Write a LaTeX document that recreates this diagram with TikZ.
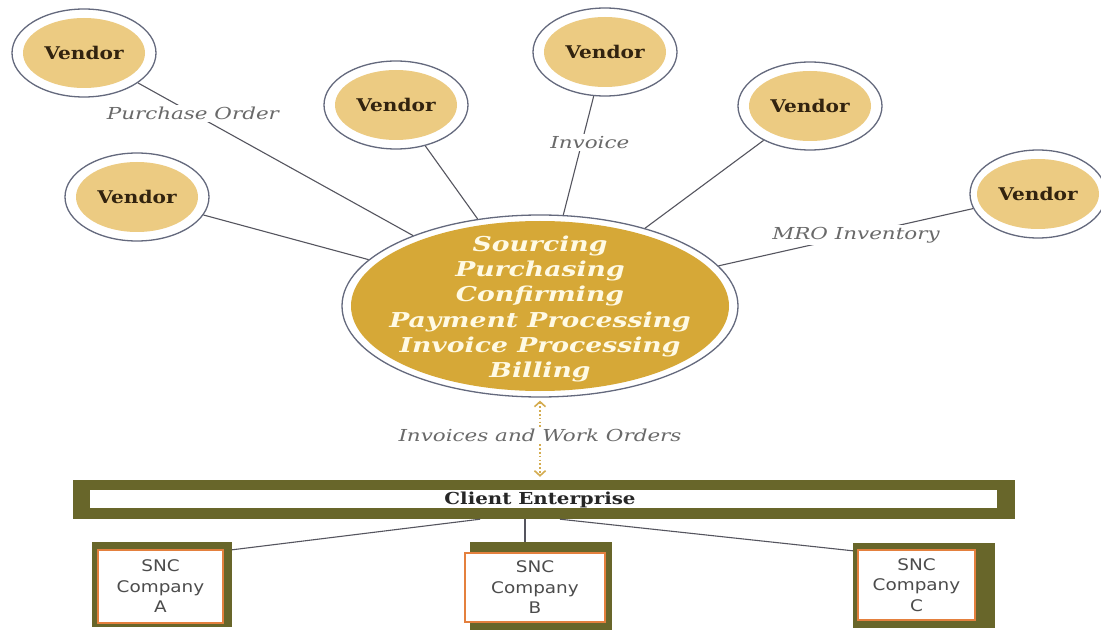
\documentclass[tikz,border=0pt]{standalone}
\usepackage{fontspec}
\setmainfont{DejaVu Serif}
\newfontfamily\vendfont[FakeStretch=1.15]{DejaVu Serif}
\newfontfamily\hubfont[FakeStretch=1.3]{DejaVu Serif}
\newfontfamily\lblfont[FakeStretch=1.3]{DejaVu Serif}
\newfontfamily\cefont[FakeStretch=1.2]{DejaVu Serif}
\newfontfamily\sncfont[FakeStretch=1.15]{DejaVu Sans}
\usetikzlibrary{shapes.geometric,arrows.meta}
\definecolor{vtan}{RGB}{236,203,130}
\definecolor{hubgold}{RGB}{214,168,55}
\definecolor{ringc}{RGB}{100,105,125}
\definecolor{connc}{RGB}{85,85,95}
\definecolor{lblc}{RGB}{105,105,105}
\definecolor{hubtext}{RGB}{255,250,228}
\definecolor{vtext}{RGB}{50,35,15}
\definecolor{olive}{RGB}{104,102,42}
\definecolor{orangec}{RGB}{228,128,62}
\definecolor{dotc}{RGB}{212,172,80}
\tikzset{
  vendor/.style={ellipse, draw=ringc, line width=1.3pt, fill=white,
    minimum width=144pt, minimum height=88pt, inner sep=0pt,
    font=\vendfont\bfseries\fontsize{17.5}{20}\selectfont, text=vtext,
    path picture={\fill[vtan] (path picture bounding box.center) ellipse [x radius=61pt, y radius=35pt];}},
  hubnode/.style={ellipse, draw=ringc, line width=1.3pt, fill=white,
    minimum width=396pt, minimum height=182pt, inner sep=0pt,
    path picture={\fill[hubgold] (path picture bounding box.center) ellipse [x radius=189pt, y radius=85pt];}},
  hubtxt/.style={inner sep=0pt, align=center,
    font=\hubfont\bfseries\itshape\fontsize{20.5}{25.2}\selectfont, text=hubtext},
  conn/.style={draw=connc, line width=1.1pt},
  lbl/.style={fill=white, inner sep=2pt, text=lblc, font=\lblfont\itshape\fontsize{16.5}{19}\selectfont},
  dots/.style={draw=dotc, line width=1.6pt, dash pattern=on 1.6pt off 2.2pt,
    {Straight Barb[length=5pt,width=11pt,line width=1.6pt,dotc]}-{Straight Barb[length=5pt,width=11pt,line width=1.6pt,dotc]}},
  barnode/.style={rectangle, fill=olive, minimum width=942pt, minimum height=39pt, inner sep=0pt,
    text=black!85, font=\cefont\bfseries\fontsize{16.5}{18}\selectfont,
    path picture={\fill[white] ([shift={(17pt,11pt)}]path picture bounding box.south west) rectangle ([shift={(-18pt,-10pt)}]path picture bounding box.north east);}},
  sncouter/.style={rectangle, fill=olive, inner sep=0pt},
  sncinner/.style={rectangle, draw=orangec, line width=1.2pt, fill=white, inner sep=0pt, align=center,
    text=black!70, font=\sncfont\fontsize{16}{20.5}\selectfont},
}
\begin{document}
\begin{tikzpicture}[x=1pt,y=-1pt]
\useasboundingbox[fill=white] (0,0) rectangle (1101,631);

% vendors
\node[vendor] (v1) at (84,53) {Vendor};
\node[vendor] (v2) at (137,197) {Vendor};
\node[vendor] (v3) at (396,105) {Vendor};
\node[vendor] (v4) at (605,52) {Vendor};
\node[vendor] (v5) at (810,106) {Vendor};
\node[vendor, minimum width=136pt] (v6) at (1038,194) {Vendor};

% hub
\node[hubnode] (hub) at (540,306) {};
\node[hubtxt] (hubtext) at (540,309) {Sourcing\\Purchasing\\Confirming\\Payment Processing\\Invoice Processing\\Billing};

% vendor connectors
\draw[conn] (v1) -- node[lbl, pos=0.2] {Purchase Order} (hub);
\draw[conn] (v2) -- (hub);
\draw[conn] (v3) -- (hub);
\draw[conn] (v4) -- node[lbl, pos=0.39, xshift=8pt] {Invoice} (hub);
\draw[conn] (v5) -- (hub);
\draw[conn] (v6) -- node[lbl, pos=0.46] {MRO Inventory} (hub);

% client enterprise bar
\node[barnode] (bar) at (544,499.5) {\hspace*{-8pt}Client Enterprise};

% dotted double arrow
\draw[dots] ([yshift=-3pt]hub.south) -- ([yshift=3pt]hub.south |- bar.north)
  node[lbl, pos=0.45, fill=white] {Invoices and Work Orders};

% SNC companies
\node[sncouter, minimum width=140pt, minimum height=85pt] (sa) at (162,584.5) {};
\node[sncinner, minimum width=125pt, minimum height=73pt] (sai) at (160.5,586.5) {SNC\\Company\\A};
\node[sncouter, minimum width=142pt, minimum height=88pt] (sb) at (541,586) {};
\node[sncinner, minimum width=140pt, minimum height=69pt] (sbi) at (535,587.5) {SNC\\Company\\B};
\node[sncouter, minimum width=142pt, minimum height=85pt] (sc) at (924,585.5) {};
\node[sncinner, minimum width=117pt, minimum height=70pt] (sci) at (916.5,585) {SNC\\Company\\C};

\draw[conn] ([xshift=-64pt]bar.south) -- ([yshift=-8pt]sa.north east);
\draw[conn] ([xshift=-16pt]sb.north) -- ([xshift=-16pt]sb.north |- bar.south);
\draw[conn] ([xshift=16pt]bar.south) -- ([yshift=-8pt]sc.north west);
\end{tikzpicture}
\end{document}
